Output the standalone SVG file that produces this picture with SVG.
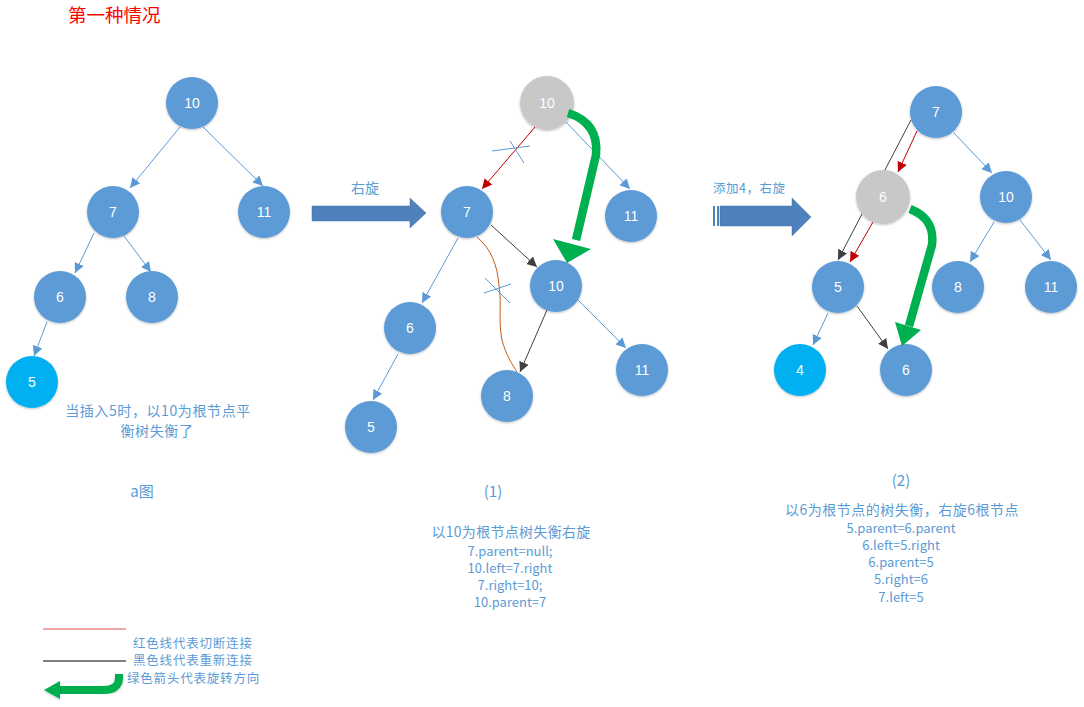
<svg xmlns="http://www.w3.org/2000/svg" width="1084" height="707" viewBox="0 0 1084 707">
<style>
.n{fill:#5B9BD5;filter:url(#sh)}
.g{fill:#C8C8C8;filter:url(#sh)}
.c{fill:#00B0F0;filter:url(#sh)}
.t{fill:#fff;font-family:"Liberation Sans","Noto Sans CJK SC",sans-serif;font-size:14px;text-anchor:middle}
.b{stroke:#5B9BD5;stroke-width:1;fill:none}
.r{stroke:#C00000;stroke-width:1;fill:none}
.k{stroke:#404040;stroke-width:1;fill:none}
.lbl{fill:#5B9BD5;font-family:"Noto Sans CJK SC",sans-serif;text-anchor:middle}
.gr{stroke:#00B050;stroke-width:8.5;fill:none;stroke-linejoin:round}
</style>
<defs>
<filter id="sh" x="-20%" y="-20%" width="140%" height="140%"><feDropShadow dx="0" dy="1" stdDeviation="1.2" flood-color="#000" flood-opacity="0.25"/></filter>
<marker id="ab" viewBox="0 0 10 10" refX="10" refY="5" markerWidth="10" markerHeight="10" markerUnits="userSpaceOnUse" orient="auto"><path d="M0,0 L10,5 L0,10 z" fill="#5B9BD5"/></marker>
<marker id="ar" viewBox="0 0 10 10" refX="10" refY="5" markerWidth="10" markerHeight="10" markerUnits="userSpaceOnUse" orient="auto"><path d="M0,0 L10,5 L0,10 z" fill="#C00000"/></marker>
<marker id="ak" viewBox="0 0 10 10" refX="10" refY="5" markerWidth="10" markerHeight="10" markerUnits="userSpaceOnUse" orient="auto"><path d="M0,0 L10,5 L0,10 z" fill="#404040"/></marker>
</defs>
<rect width="1084" height="707" fill="#fff"/>

<text x="68" y="22" fill="#FF0000" font-family="Noto Sans CJK SC,sans-serif" font-size="18.5">第一种情况</text>

<g id="connectors">
<!-- tree a -->
<line class="b" x1="180" y1="127" x2="130" y2="188" marker-end="url(#ab)"/>
<line class="b" x1="203" y1="127" x2="263" y2="186" marker-end="url(#ab)"/>
<line class="b" x1="94" y1="233" x2="75" y2="273" marker-end="url(#ab)"/>
<line class="b" x1="124" y1="236" x2="151" y2="272" marker-end="url(#ab)"/>
<line class="b" x1="47" y1="322" x2="34" y2="356" marker-end="url(#ab)"/>
<!-- tree 1 -->
<line class="r" x1="535" y1="127" x2="482" y2="189" marker-end="url(#ar)"/>
<line class="b" x1="492" y1="151" x2="530" y2="146"/>
<line class="b" x1="510" y1="141" x2="524" y2="163"/>
<line class="b" x1="566" y1="122" x2="630" y2="189" marker-end="url(#ab)"/>
<line class="k" x1="491" y1="225" x2="537" y2="267" marker-end="url(#ak)"/>
<line class="k" x1="547" y1="310" x2="520" y2="372" marker-end="url(#ak)"/>
<line class="b" x1="578" y1="300" x2="626" y2="348" marker-end="url(#ab)"/>
<line class="b" x1="458" y1="238" x2="422" y2="303" marker-end="url(#ab)"/>
<line class="b" x1="398" y1="354" x2="373" y2="400" marker-end="url(#ab)"/>
<path d="M477,237 C492,250 497,265 499,285 C502,305 498,320 502,340 C506,355 512,364 517,372" stroke="#C55A11" stroke-width="1" fill="none"/>
<line class="b" x1="484" y1="293" x2="511" y2="284"/>
<line class="b" x1="485" y1="278" x2="510" y2="303"/>
<!-- tree 2 -->
<line class="k" x1="911" y1="120" x2="838" y2="260" marker-end="url(#ak)"/>
<line class="r" x1="917" y1="131" x2="898" y2="172" marker-end="url(#ar)"/>
<line class="r" x1="873" y1="222" x2="850" y2="262" marker-end="url(#ar)"/>
<line class="b" x1="954" y1="133" x2="992" y2="173" marker-end="url(#ab)"/>
<line class="b" x1="994" y1="222" x2="970" y2="262" marker-end="url(#ab)"/>
<line class="b" x1="1020" y1="220" x2="1051" y2="260" marker-end="url(#ab)"/>
<line class="b" x1="828" y1="313" x2="813" y2="345" marker-end="url(#ab)"/>
<line class="k" x1="857" y1="306" x2="888" y2="349" marker-end="url(#ak)"/>
</g>

<g id="tree-a">
<g id="a10"><circle class="n" cx="192" cy="103" r="26"/><text class="t" x="192" y="108">10</text></g>
<g id="a7"><circle class="n" cx="113" cy="212" r="26"/><text class="t" x="113" y="217">7</text></g>
<g id="a11"><circle class="n" cx="264" cy="212" r="26"/><text class="t" x="264" y="217">11</text></g>
<g id="a6"><circle class="n" cx="60" cy="297" r="26"/><text class="t" x="60" y="302">6</text></g>
<g id="a8"><circle class="n" cx="152" cy="297" r="26"/><text class="t" x="152" y="302">8</text></g>
<g id="a5"><circle class="c" cx="32" cy="382" r="26"/><text class="t" x="32" y="387">5</text></g>
</g>

<g id="tree-1">
<g id="b10g"><circle class="g" cx="547" cy="103" r="27"/><text class="t" x="547" y="108">10</text></g>
<g id="b7"><circle class="n" cx="467" cy="212" r="26"/><text class="t" x="467" y="217">7</text></g>
<g id="b11a"><circle class="n" cx="631" cy="216" r="26"/><text class="t" x="631" y="221">11</text></g>
<g id="b10"><circle class="n" cx="556" cy="286" r="26"/><text class="t" x="556" y="291">10</text></g>
<g id="b6"><circle class="n" cx="410" cy="328" r="26"/><text class="t" x="410" y="333">6</text></g>
<g id="b8"><circle class="n" cx="507" cy="396" r="26"/><text class="t" x="507" y="401">8</text></g>
<g id="b11"><circle class="n" cx="642" cy="370" r="26"/><text class="t" x="642" y="375">11</text></g>
<g id="b5"><circle class="n" cx="371" cy="427" r="26"/><text class="t" x="371" y="432">5</text></g>
</g>

<g id="tree-2">
<g id="c7"><circle class="n" cx="936" cy="112" r="26"/><text class="t" x="936" y="117">7</text></g>
<g id="c6g"><circle class="g" cx="883" cy="197" r="27"/><text class="t" x="883" y="202">6</text></g>
<g id="c10"><circle class="n" cx="1006" cy="197" r="26"/><text class="t" x="1006" y="202">10</text></g>
<g id="c5"><circle class="n" cx="838" cy="287" r="26"/><text class="t" x="838" y="292">5</text></g>
<g id="c8"><circle class="n" cx="958" cy="287" r="26"/><text class="t" x="958" y="292">8</text></g>
<g id="c11"><circle class="n" cx="1051" cy="287" r="26"/><text class="t" x="1051" y="292">11</text></g>
<g id="c4"><circle class="c" cx="800" cy="370" r="26"/><text class="t" x="800" y="375">4</text></g>
<g id="c6"><circle class="n" cx="906" cy="370" r="26"/><text class="t" x="906" y="375">6</text></g>
</g>

<g id="green-arrows">
<path class="gr" d="M568,113 C590,120 598,135 596,155 L576,240"/>
<polygon points="553,239 591,249 567,263" fill="#00B050"/>
<path class="gr" d="M910,209 C928,216 934,228 932,245 L909,326"/>
<polygon points="895,322 921,330 902,346" fill="#00B050"/>
</g>

<g id="big-arrows">
<polygon points="312,206 410,206 410,198 426,213 410,228 410,221 312,221" fill="#4F81BD" stroke="#41719C" stroke-width="0.5"/>
<rect x="713" y="206" width="2" height="20" fill="#4F81BD"/>
<rect x="717" y="206" width="2" height="20" fill="#4F81BD"/>
<polygon points="720,206 792,206 792,198 811,217 792,236 792,226 720,226" fill="#4F81BD" stroke="#41719C" stroke-width="0.5"/>
<text class="lbl" x="365" y="193" font-size="14">右旋</text>
<text class="lbl" x="713" y="193" font-size="12.5" letter-spacing="0.5" style="text-anchor:start">添加4，右旋</text>
</g>

<g id="texts">
<text class="lbl" x="158" y="416" font-size="14" letter-spacing="0.6">当插入5时，以10为根节点平</text>
<text class="lbl" x="157" y="436" font-size="14" letter-spacing="0.6">衡树失衡了</text>
<text class="lbl" x="142" y="497" font-size="15">a图</text>
<text class="lbl" x="493" y="497" font-size="15">(1)</text>
<text class="lbl" x="511" y="537" font-size="14" letter-spacing="0.3">以10为根节点树失衡右旋</text>
<text class="lbl" x="510" y="556" font-size="13">7.parent=null;</text>
<text class="lbl" x="510" y="573" font-size="13">10.left=7.right</text>
<text class="lbl" x="510" y="590" font-size="13">7.right=10;</text>
<text class="lbl" x="510" y="607" font-size="13">10.parent=7</text>
<text class="lbl" x="901" y="486" font-size="15">(2)</text>
<text class="lbl" x="902" y="515" font-size="14" letter-spacing="0.5">以6为根节点的树失衡，右旋6根节点</text>
<text class="lbl" x="901" y="533" font-size="13">5.parent=6.parent</text>
<text class="lbl" x="901" y="550" font-size="13">6.left=5.right</text>
<text class="lbl" x="901" y="567" font-size="13">6.parent=5</text>
<text class="lbl" x="901" y="584" font-size="13">5.right=6</text>
<text class="lbl" x="901" y="602" font-size="13">7.left=5</text>
</g>

<g id="legend">
<line x1="43" y1="629" x2="126" y2="629" stroke="#E05050" stroke-width="1"/>
<line x1="43" y1="661" x2="126" y2="661" stroke="#000" stroke-width="1"/>
<text class="lbl" x="133" y="648" font-size="12.5" letter-spacing="0.8" style="text-anchor:start">红色线代表切断连接</text>
<text class="lbl" x="133" y="665" font-size="12.5" letter-spacing="0.8" style="text-anchor:start">黑色线代表重新连接</text>
<text class="lbl" x="127" y="683" font-size="12.5" letter-spacing="0.8" style="text-anchor:start">绿色箭头代表旋转方向</text>
<path d="M119,674 L119,678 C119,686 113,690 104,690 L58,690" stroke="#00B050" stroke-width="8" fill="none" filter="url(#sh)"/>
<polygon points="60,681 44,690 60,699" fill="#00B050" filter="url(#sh)"/>
</g>
</svg>
